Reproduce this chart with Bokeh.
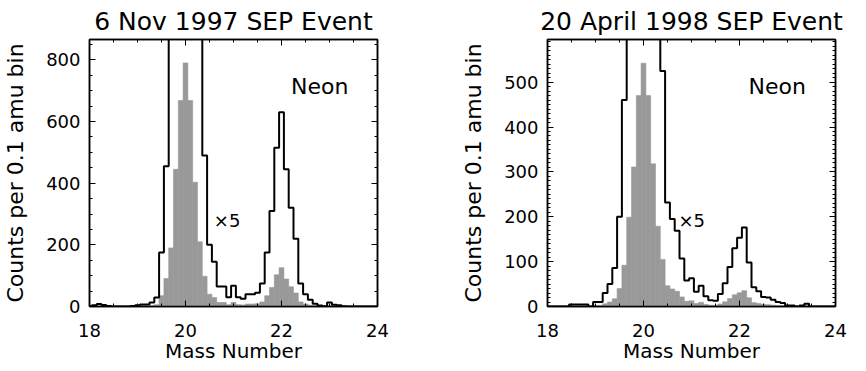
from bokeh.plotting import figure
from bokeh.layouts import row
from bokeh.models import (Range1d, LinearAxis, SingleIntervalTicker,
                          CustomJSTickFormatter, Label)
from bokeh.embed import file_html
from bokeh.resources import INLINE

# ---------------- data ----------------
# bin centres (amu), 0.1 amu bins from 18.0 to 24.0
mass = [round(18.0 + 0.1 * i, 1) for i in range(61)]

# 6 Nov 1997: counts per 0.1 amu bin (grey histogram)
counts_1997 = [
    0.4, 0.8, 1.6, 1.0, 0.4, 0, 0, 0, 0, 0.4,          # 18.0 - 18.9
    0.8, 1.3, 1.3, 2.6, 5.8, 35, 91, 190, 445, 668,     # 19.0 - 19.9
    790, 668, 403, 210, 98, 40, 29, 13, 13, 6,          # 20.0 - 20.9
    13.4, 6, 5, 8, 8, 9, 15, 35, 62, 103,               # 21.0 - 21.9
    126, 89, 64, 44, 15, 8, 4.4, 1.8, 0.6, 0.2,         # 22.0 - 22.9
    2.6, 1.2, 0.8, 0.2, 0, 0, 0, 0, 0, 0,               # 23.0 - 23.9
    0,                                                  # 24.0
]

# 20 April 1998: counts per 0.1 amu bin (grey histogram)
counts_1998 = [
    0, 0, 0, 0, 0, 0.9, 0.9, 0.9, 0.9, 0,               # 18.0 - 18.9
    2, 2, 6, 10, 17.2, 40, 92, 199, 311, 470,           # 19.0 - 19.9
    542, 470, 318, 179, 105, 46.4, 39, 33.8, 21.4, 11.6,  # 20.0 - 20.9
    12.6, 6.6, 9.2, 4.6, 2.8, 2.6, 5.6, 10.4, 17.6, 26,   # 21.0 - 21.9
    30.6, 35.2, 19.6, 8.6, 6.8, 4.2, 4.0, 3.0, 2.0, 1.6,  # 22.0 - 22.9
    0.4, 0.4, 0, 0.4, 1.2, 0, 0, 0, 0, 0,               # 23.0 - 23.9
    0,                                                  # 24.0
]

scale = 5  # black histogram is counts x 5

titles = ["6 Nov 1997 SEP Event", "20 April 1998 SEP Event"]
x_title = "Mass Number"
y_title = "Counts per 0.1 amu bin"
y_max = [866, 595]
y_tick_step = [200, 100]
y_minor = [4, 10]
neon_xy = [(22.2, 713), (22.19, 490)]
x5_xy = [(20.59, 278), (20.73, 191)]

FONT = "DejaVu Sans"
GREY = "#999999"


def blank():
    return CustomJSTickFormatter(code="return ''")


def style_axis(ax, label_size="18px"):
    ax.axis_line_color = "black"
    ax.axis_line_width = 1.5
    ax.major_tick_line_color = "black"
    ax.minor_tick_line_color = "black"
    ax.major_tick_in = 6
    ax.major_tick_out = 0
    ax.minor_tick_in = 3
    ax.minor_tick_out = 0
    ax.major_label_text_font = FONT
    ax.major_label_text_font_size = label_size
    ax.major_label_text_color = "black"
    ax.axis_label_text_font = FONT
    ax.axis_label_text_font_style = "normal"
    ax.axis_label_text_color = "black"


def panel(i, counts, border_left, border_right):
    p = figure(frame_width=288, frame_height=267,
               x_range=Range1d(18, 24), y_range=Range1d(0, y_max[i]),
               output_backend="svg", toolbar_location=None,
               min_border_left=border_left,
               min_border_right=border_right,
               min_border_top=31, min_border_bottom=57)
    p.background_fill_color = "white"
    p.border_fill_color = "white"
    p.outline_line_color = "black"
    p.outline_line_width = 1.5
    p.xgrid.visible = False
    p.ygrid.visible = False

    p.title.text = titles[i]
    p.title.align = "center"
    p.title.text_font = FONT
    p.title.text_font_size = "25px"
    p.title.text_font_style = "normal"
    p.title.text_color = "black"
    p.title.standoff = 8

    xt = SingleIntervalTicker(interval=2, num_minor_ticks=4)
    yt = SingleIntervalTicker(interval=y_tick_step[i], num_minor_ticks=y_minor[i])

    xa = p.xaxis[0]
    xa.ticker = xt
    xa.axis_label = x_title
    xa.axis_label_text_font_size = "20px"
    xa.major_label_standoff = 17
    xa.axis_label_standoff = -1
    style_axis(xa)

    ya = p.yaxis[0]
    ya.ticker = yt
    ya.axis_label = y_title
    ya.axis_label_text_font_size = "22px"
    ya.major_label_standoff = 9
    ya.axis_label_standoff = 15
    style_axis(ya)

    top = LinearAxis(ticker=xt, formatter=blank(), major_label_standoff=0)
    style_axis(top, "1px")
    p.add_layout(top, "above")
    right = LinearAxis(ticker=yt, formatter=blank(), major_label_standoff=0)
    style_axis(right, "1px")
    p.add_layout(right, "right")

    p.vbar(x=mass, width=0.1, top=counts, bottom=0,
           fill_color=GREY, line_color=GREY, line_width=0.6)
    p.step(x=mass, y=[c * scale for c in counts], mode="center",
           line_color="black", line_width=2)

    nx, ny = neon_xy[i]
    p.add_layout(Label(x=nx, y=ny, text="Neon", text_font=FONT,
                       text_font_size="22px", text_baseline="middle",
                       text_align="left", text_color="black"))
    fx, fy = x5_xy[i]
    p.add_layout(Label(x=fx, y=fy, text="\u00d75", text_font=FONT,
                       text_font_size="18px", text_baseline="middle",
                       text_align="left", text_color="black"))
    return p


p1 = panel(0, counts_1997, 83, 54)
p2 = panel(1, counts_1998, 116, 21)
layout = row(p1, p2)

open("out.html", "w").write(file_html(layout, INLINE))
